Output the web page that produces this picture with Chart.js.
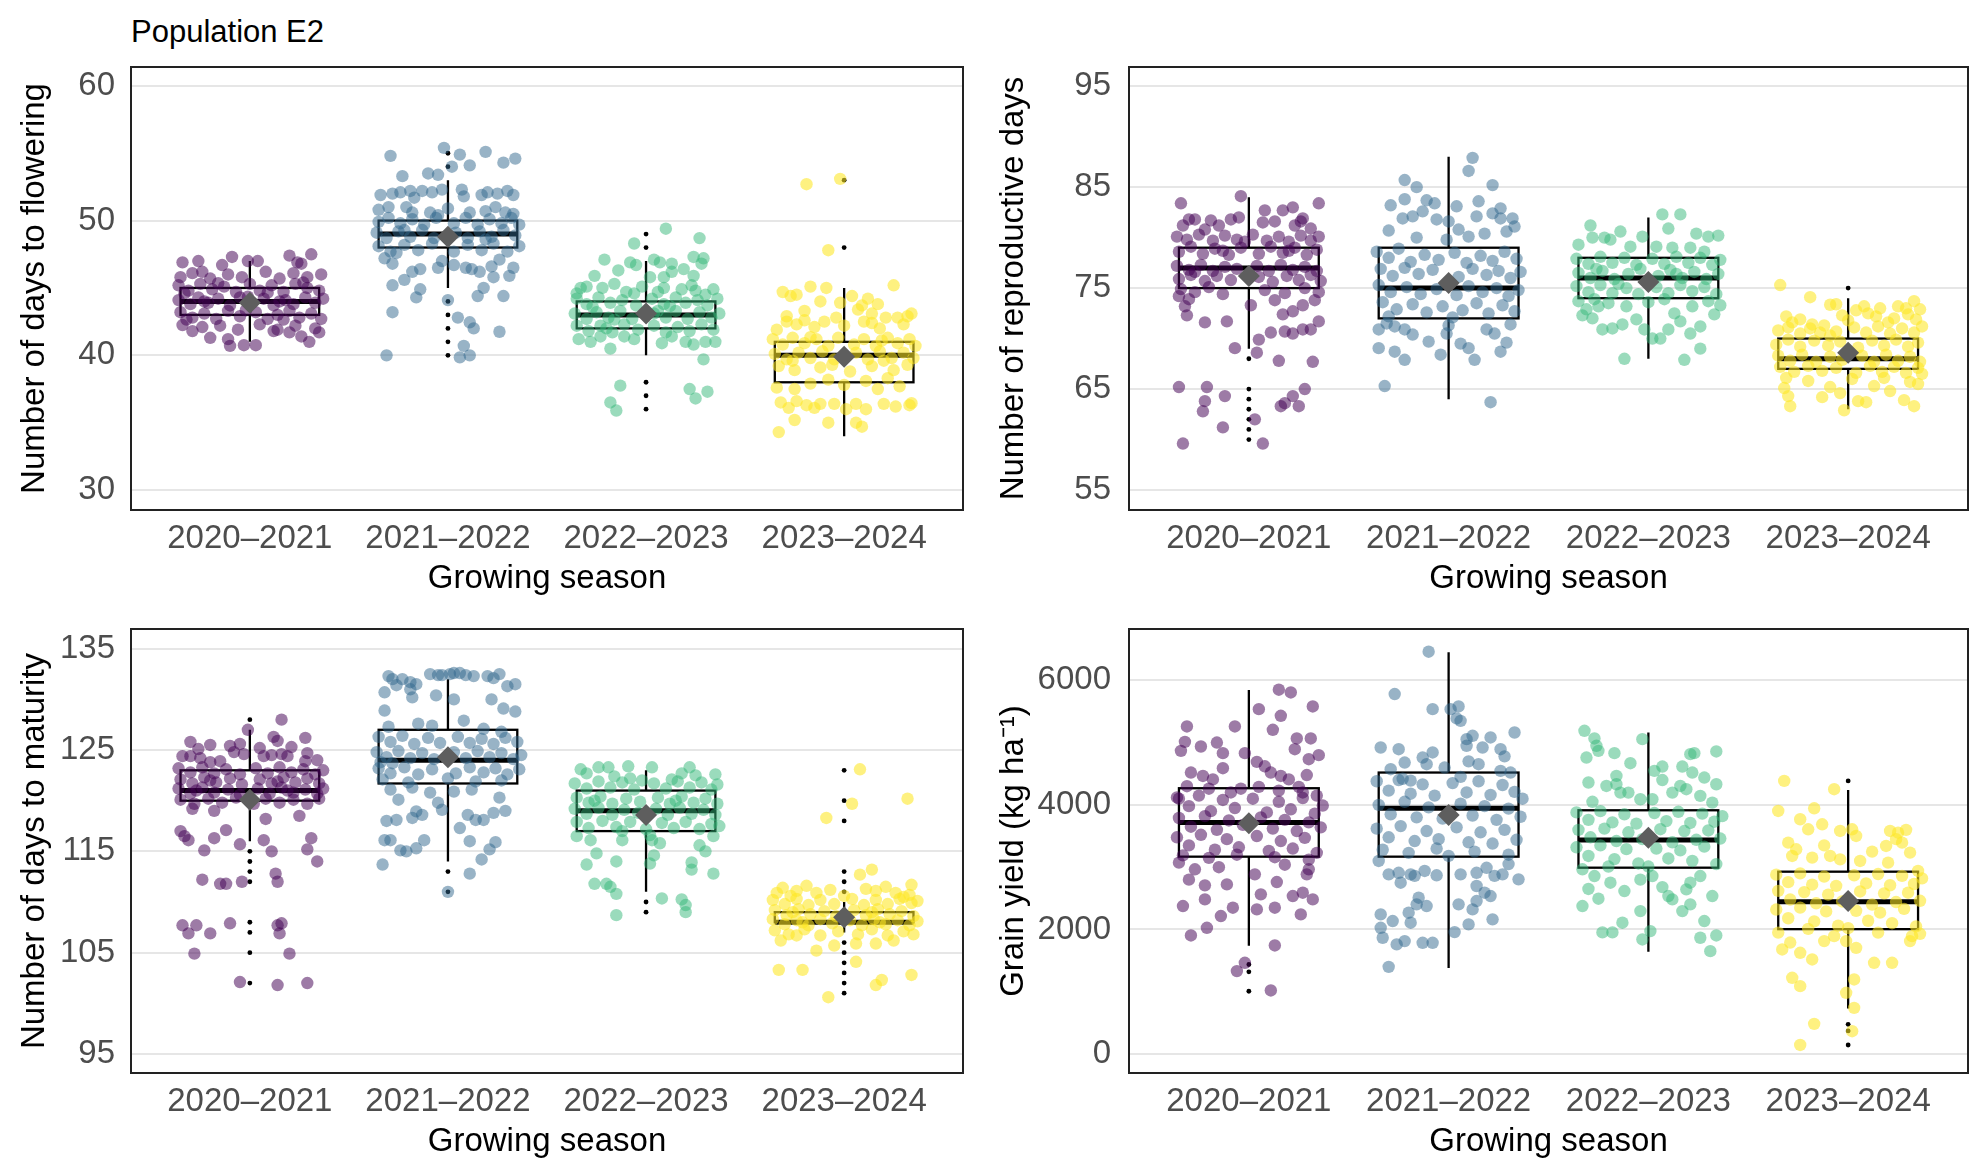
<!DOCTYPE html>
<html>
<head>
<meta charset="utf-8">
<script src="https://cdn.jsdelivr.net/npm/chart.js@4.4.1/dist/chart.umd.min.js"></script>
<style>
  body { margin: 0; background: #fff; width: 1983px; height: 1169px; position: relative; overflow: hidden;
         font-family: "Liberation Sans", Arial, Helvetica, sans-serif; }
  .panel { position: absolute; }
  #figTitle { position: absolute; left: 131px; top: 16px; font-size: 31px; line-height: 31px; color: #000; }
</style>
</head>
<body>
<div id="figTitle">Population E2</div>
<div class="panel" style="left:0px;top:50px;width:990px;height:560px"><canvas id="graph1"></canvas></div>
<div class="panel" style="left:990px;top:50px;width:993px;height:560px"><canvas id="graph2"></canvas></div>
<div class="panel" style="left:0px;top:612px;width:990px;height:557px"><canvas id="graph3"></canvas></div>
<div class="panel" style="left:990px;top:612px;width:993px;height:557px"><canvas id="graph4"></canvas></div>
<script>
Chart.defaults.font.family = '"Liberation Sans", Arial, Helvetica, sans-serif';
Chart.defaults.animation = false;

const seasons = ['2020–2021', '2021–2022', '2022–2023', '2023–2024'];
// viridis, 4 levels
const seasonColors = ['rgba(68,1,84,0.52)', 'rgba(49,104,142,0.5)', 'rgba(53,183,121,0.5)', 'rgba(253,231,37,0.58)'];

// ---------- days to flowering ----------
const flwTicks = [30, 40, 50, 60];
const flwQ1 = [43, 48, 42, 38];
const flwMed = [44, 49, 43, 40];
const flwQ3 = [45, 50, 44, 41];
const flwLo = [41, 45, 40, 34];
const flwHi = [47, 53, 47, 45];
const flwMean = [43.9, 48.8, 43.1, 39.9];
const flwOut = [[], [55, 54, 44, 43, 42, 41, 40], [49, 48, 38, 37, 36], [53, 48]];
// jittered plants: [offset from season, days]
const flwPts2021 = [[-0.34,46.9],[-0.26,47.0],[-0.24,46.2],[-0.14,46.7],[-0.09,47.3],[-0.01,47.0],[0.04,47.0],[0.2,47.4],[0.24,46.9],[0.26,46.8],[0.31,47.5],
 [-0.35,45.8],[-0.29,46.1],[-0.2,45.7],[-0.11,46.0],[-0.04,45.8],[0.08,46.2],[0.15,45.7],[0.22,46.1],[0.29,45.8],[0.36,46.0],
 [-0.36,45.2],[-0.31,44.8],[-0.25,45.3],[-0.19,44.9],[-0.13,45.1],[-0.07,44.7],[0.0,45.3],[0.05,44.8],[0.11,45.2],[0.17,44.7],[0.23,45.3],[0.29,45.0],[0.35,44.8],[-0.33,44.6],[-0.16,45.35],[0.09,44.65],[0.27,45.4],
 [-0.36,44.1],[-0.3,43.8],[-0.26,44.3],[-0.21,43.9],[-0.16,44.2],[-0.1,43.7],[-0.05,44.3],[0.01,43.9],[0.07,44.2],[0.12,43.7],[0.18,44.1],[0.22,43.8],[0.28,44.3],[0.33,43.9],[0.37,44.2],[-0.01,44.35],[0.15,44.0],[-0.23,44.0],
 [-0.35,43.2],[-0.29,42.8],[-0.23,43.1],[-0.17,42.7],[-0.11,43.3],[-0.05,42.9],[0.03,43.2],[0.09,42.7],[0.14,43.0],[0.2,43.3],[0.25,42.8],[0.31,43.1],[0.36,42.7],[-0.32,42.65],[0.17,42.65],[-0.02,43.35],
 [-0.34,42.25],[-0.24,42.1],[-0.15,42.2],[-0.06,41.9],[0.05,42.3],[0.14,41.9],[0.23,42.2],[0.33,42.0],[-0.29,41.8],
 [-0.11,41.2],[-0.1,40.7],[-0.03,40.75],[0.03,40.75],[0.12,41.8],[0.2,41.7],[0.3,41.0],[0.35,41.7],[-0.2,41.3],[0.26,41.4]];
const flwPts2122 = [[-0.02,55.4],[-0.29,54.8],[0.06,54.9],[0.19,55.1],[0.11,54.1],[0.28,54.3],[0.34,54.6],[0.02,54.0],[-0.05,53.4],[-0.23,53.3],[-0.1,53.5],
 [-0.28,52.0],[-0.24,52.1],[-0.19,52.2],[-0.13,52.2],[-0.08,52.1],[-0.03,52.3],[0.07,52.3],[0.08,51.8],[0.17,51.9],[0.2,52.1],[0.25,52.0],[0.3,52.2],[-0.17,51.7],[0.33,51.9],[-0.34,51.9],
 [-0.3,51.0],[-0.21,51.0],[-0.18,50.6],[-0.09,50.6],[-0.05,50.4],[0.11,50.6],[0.19,50.7],[0.24,51.0],[0.29,50.6],[0.33,50.5],[-0.35,50.8],[0.0,50.9],
 [-0.35,49.9],[-0.3,50.2],[-0.24,49.8],[-0.18,50.1],[-0.12,49.7],[-0.06,50.2],[0.03,49.8],[0.09,50.2],[0.15,49.7],[0.21,50.1],[0.27,49.8],[0.32,50.2],[0.36,49.7],
 [-0.36,49.1],[-0.31,48.7],[-0.25,49.2],[-0.19,48.8],[-0.13,49.3],[-0.07,48.7],[0.04,49.1],[0.1,48.7],[0.16,49.2],[0.22,48.8],[0.28,49.3],[0.34,48.9],[-0.22,49.3],[0.19,48.6],
 [-0.35,48.1],[-0.29,47.7],[-0.22,48.2],[-0.15,47.8],[-0.08,48.3],[0.03,47.7],[0.1,48.2],[0.17,47.8],[0.23,48.3],[0.3,47.7],[0.36,48.1],[-0.26,47.6],
 [-0.32,47.2],[-0.28,46.8],[-0.18,46.2],[-0.14,46.4],[-0.05,46.5],[0.03,46.7],[0.09,46.5],[0.12,46.4],[0.22,46.6],[0.26,47.1],[0.33,46.5],[-0.03,47.0],
 [-0.28,45.2],[-0.14,44.9],[-0.16,44.3],[0.15,44.4],[0.18,45.0],[0.28,44.4],[0.16,46.2],[0.23,45.8],[0.31,45.9],[-0.22,45.6],[0.0,44.1],
 [-0.28,43.2],[0.05,42.8],[0.11,42.45],[0.26,41.75],[0.08,40.7],[0.06,39.85],[0.11,40.0],[-0.31,40.0],[0.13,42.0]];
const flwPts2223 = [[0.1,49.4],[0.27,48.7],[-0.06,48.3],[-0.21,47.1],[-0.08,46.9],[-0.05,46.7],[0.04,47.1],[0.07,46.9],[0.13,46.8],[0.19,46.4],[0.24,47.3],[0.29,47.2],[0.28,46.8],[0.24,45.9],[0.09,45.8],[0.13,46.2],[0.02,45.8],[-0.14,46.3],[-0.26,45.9],
 [-0.33,45.0],[-0.3,45.1],[-0.22,45.0],[-0.16,45.3],[-0.1,44.7],[-0.06,44.6],[0.06,44.7],[0.09,45.0],[0.18,44.9],[0.23,45.2],[0.25,44.8],[0.3,44.5],[-0.35,44.6],[0.34,44.9],[-0.02,45.1],
 [-0.35,44.2],[-0.3,43.8],[-0.24,44.3],[-0.18,43.9],[-0.12,44.1],[-0.05,43.7],[0.03,44.2],[0.09,43.8],[0.15,44.3],[0.2,43.9],[0.26,44.1],[0.31,43.7],[0.36,44.2],[-0.27,43.6],[0.12,43.65],
 [-0.36,43.1],[-0.3,42.7],[-0.25,43.2],[-0.19,42.8],[-0.13,43.3],[-0.07,42.7],[0.04,43.1],[0.1,42.8],[0.15,43.3],[0.21,42.7],[0.27,43.2],[0.33,42.8],[0.37,43.1],[-0.16,42.65],[0.06,43.3],
 [-0.35,42.2],[-0.29,41.8],[-0.23,42.2],[-0.17,41.7],[-0.11,42.3],[-0.04,41.9],[0.04,42.2],[0.1,41.7],[0.16,42.1],[0.22,41.8],[0.28,42.3],[0.34,41.9],[-0.2,42.0],
 [-0.34,41.2],[-0.28,41.0],[-0.23,41.4],[-0.18,40.5],[-0.11,41.4],[-0.06,41.2],[0.08,40.9],[0.13,41.4],[0.2,41.0],[0.24,40.8],[0.3,41.0],[0.35,41.0],[0.29,39.7],
 [-0.13,37.75],[-0.18,36.5],[-0.15,35.9],[0.22,37.5],[0.25,36.8],[0.31,37.3]];
const flwPts2324 = [[-0.19,52.7],[-0.02,53.1],[-0.08,47.8],
 [-0.31,44.7],[-0.27,44.4],[-0.24,44.5],[-0.17,45.1],[-0.09,45.0],[-0.12,44.0],[-0.02,43.9],[0.04,44.4],[0.09,43.7],[0.12,44.2],[0.17,43.8],[0.25,45.2],[0.07,43.4],[0.14,43.1],[-0.2,43.3],[-0.29,42.9],
 [-0.34,41.9],[-0.29,42.5],[-0.24,42.3],[-0.2,42.6],[-0.1,42.5],[-0.04,42.8],[0.1,42.5],[0.14,42.4],[0.21,42.8],[0.27,42.8],[0.32,42.9],[0.34,43.1],[0.0,42.2],[-0.15,42.1],[0.18,42.0],[0.3,42.3],
 [-0.36,41.2],[-0.31,40.8],[-0.26,41.3],[-0.2,40.9],[-0.14,41.2],[-0.08,40.7],[-0.03,41.3],[0.05,40.8],[0.1,41.2],[0.16,40.7],[0.22,41.3],[0.27,40.9],[0.33,41.2],[0.36,40.7],[-0.17,41.35],[0.19,41.1],
 [-0.35,40.1],[-0.29,39.7],[-0.23,40.2],[-0.17,39.8],[-0.11,40.3],[-0.05,39.7],[0.06,40.2],[0.12,39.7],[0.18,40.3],[0.24,39.8],[0.3,40.2],[0.35,39.8],[-0.26,39.6],[0.2,39.6],
 [-0.33,39.2],[-0.25,38.9],[-0.12,39.1],[0.03,38.8],[0.14,39.2],[0.25,38.9],[0.32,39.3],[-0.06,39.3],
 [-0.34,37.6],[-0.25,37.5],[-0.17,37.9],[0.0,37.8],[0.11,38.1],[0.17,37.5],[0.28,37.7],[-0.08,38.2],[0.22,38.3],
 [-0.32,36.5],[-0.28,36.1],[-0.24,36.6],[-0.19,36.3],[-0.12,36.4],[-0.05,36.4],[0.01,36.0],[0.06,36.4],[0.11,36.0],[0.2,36.4],[0.33,36.3],[0.34,36.45],[-0.15,36.1],[0.26,36.2],
 [-0.25,35.2],[-0.08,35.0],[0.09,34.7],[0.06,35.0],[-0.33,34.3]];

// ---------- reproductive days ----------
const repTicks = [55, 65, 75, 85, 95];
const repQ1 = [75, 72, 74, 67];
const repMed = [77, 75, 76, 68];
const repQ3 = [79, 79, 78, 70];
const repLo = [69, 64, 68, 63];
const repHi = [84, 88, 82, 74];
const repMean = [76.2, 75.5, 75.6, 68.6];
const repOut = [[68, 65, 64, 63, 62, 61, 60], [], [], [75]];
const repPts2021 = [[-0.34,83.4],[-0.04,84.1],[0.08,82.7],[0.17,82.7],[0.22,83.0],[0.35,83.4],
 [-0.33,81.2],[-0.3,81.8],[-0.27,81.8],[-0.19,81.7],[-0.15,81.2],[-0.09,81.8],[-0.05,82.0],[0.07,81.5],[0.13,81.6],[0.23,81.2],[0.26,81.6],[0.31,80.9],[0.27,81.9],[-0.22,80.8],
 [-0.36,80.1],[-0.31,79.8],[-0.25,80.3],[-0.18,79.7],[-0.12,80.2],[-0.06,79.8],[0.02,80.3],[0.09,79.7],[0.15,80.1],[0.2,79.6],[0.26,80.2],[0.31,79.7],[0.35,80.1],[-0.02,79.6],
 [-0.35,78.6],[-0.29,79.1],[-0.23,78.4],[-0.17,78.9],[-0.1,78.3],[-0.04,79.0],[0.05,78.4],[0.11,79.1],[0.17,78.5],[0.23,79.0],[0.29,78.3],[0.34,78.8],[-0.13,78.7],[0.2,78.7],
 [-0.36,77.2],[-0.3,76.8],[-0.24,77.3],[-0.18,76.7],[-0.12,77.1],[-0.06,76.9],[0.04,77.2],[0.1,76.7],[0.16,77.3],[0.22,76.8],[0.28,77.1],[0.34,76.7],[-0.27,76.6],
 [-0.35,75.9],[-0.29,76.3],[-0.22,75.7],[-0.16,76.2],[-0.09,75.8],[0.05,76.1],[0.12,75.6],[0.19,76.2],[0.25,75.8],[0.31,76.3],[0.36,75.7],
 [-0.34,74.9],[-0.27,74.6],[-0.2,75.1],[-0.13,74.4],[0.08,74.8],[0.18,74.5],[0.28,75.0],[0.35,74.6],[-0.35,74.2],
 [-0.32,73.2],[-0.31,72.3],[-0.22,71.6],[-0.11,71.7],[0.01,73.3],[0.13,73.8],[0.17,72.4],[0.22,72.7],[0.27,73.3],[0.33,73.8],[0.35,71.7],[-0.07,69.05],[0.05,69.9],[0.11,70.6],[0.18,70.7],[0.22,70.5],[0.27,70.9],[0.31,70.9],[0.04,68.6],[0.15,67.8],[0.32,67.7],[-0.3,73.9],
 [-0.35,65.2],[-0.21,65.2],[-0.22,63.8],[-0.23,62.8],[-0.12,64.3],[-0.13,61.2],[-0.33,59.6],[0.03,62.0],[0.07,59.6],[0.16,63.3],[0.18,63.6],[0.22,64.3],[0.25,63.3],[0.28,65.0]];
const repPts2122 = [[0.12,87.9],[0.1,86.6],[0.22,85.2],[-0.22,85.7],[-0.16,85.0],[-0.29,83.2],[-0.22,83.8],[-0.11,83.7],[-0.07,83.4],[0.15,83.6],[0.26,82.9],[-0.23,81.9],[-0.18,82.1],[-0.13,82.6],[-0.06,81.8],[0.04,83.1],[0.05,80.8],[0.14,82.1],[0.22,82.4],[0.26,81.9],[0.32,81.9],[0.33,81.1],[0.29,80.6],[0.1,80.1],[-0.01,79.8],[-0.16,80.0],[-0.3,80.7],[0.0,81.6],[0.18,80.4],
 [-0.36,78.6],[-0.3,78.0],[-0.25,78.9],[-0.19,77.6],[-0.12,78.3],[-0.05,77.8],[0.03,78.5],[0.09,77.5],[0.16,78.2],[0.22,77.7],[0.28,78.6],[0.34,77.9],
 [-0.34,76.9],[-0.28,76.2],[-0.22,77.0],[-0.15,76.4],[-0.08,76.8],[0.05,76.1],[0.12,76.9],[0.19,76.3],[0.25,76.7],[0.31,76.0],[0.36,76.6],
 [-0.35,75.3],[-0.29,74.6],[-0.21,75.1],[-0.14,74.4],[-0.06,74.9],[0.04,74.3],[0.1,75.2],[0.17,74.6],[0.24,75.0],[0.3,74.2],[0.35,74.8],
 [-0.33,73.6],[-0.26,72.9],[-0.18,73.4],[-0.11,72.6],[-0.03,73.2],[0.07,72.8],[0.14,73.5],[0.2,72.5],[0.27,73.3],[0.33,72.7],[-0.3,72.2],[0.02,72.1],
 [-0.35,70.9],[-0.31,71.5],[-0.27,71.2],[-0.22,70.9],[-0.18,70.4],[-0.1,69.7],[-0.04,68.4],[-0.01,70.5],[0.06,69.5],[0.1,69.05],[0.13,67.9],[0.19,70.9],[0.23,70.5],[0.26,68.7],[0.29,69.6],[-0.35,69.05],[-0.27,68.7],[-0.22,67.9],[-0.32,65.3],[0.21,63.7],[0.0,71.3],[0.31,71.4]];
const repPts2223 = [[0.07,82.3],[0.16,82.3],[0.1,80.9],[-0.29,81.2],[-0.28,80.0],[-0.22,80.0],[-0.19,79.8],[-0.03,80.1],[0.3,80.1],[0.35,80.2],[-0.09,79.1],[0.04,79.1],[0.12,79.0],[0.21,79.0],[0.28,78.6],[-0.14,80.6],[0.24,80.4],[-0.35,79.3],
 [-0.36,77.9],[-0.3,77.4],[-0.24,78.1],[-0.18,77.5],[-0.12,78.0],[-0.06,77.3],[0.02,77.9],[0.08,77.4],[0.14,78.1],[0.2,77.5],[0.26,78.0],[0.32,77.3],[0.36,77.8],
 [-0.35,76.5],[-0.29,76.0],[-0.23,76.7],[-0.17,75.9],[-0.1,76.4],[-0.04,76.9],[0.05,76.2],[0.11,76.8],[0.17,76.0],[0.23,76.6],[0.29,75.9],[0.35,76.4],[-0.26,76.9],[0.14,76.4],
 [-0.36,75.2],[-0.3,74.6],[-0.24,75.3],[-0.18,74.5],[-0.11,75.0],[-0.05,74.4],[0.04,75.1],[0.1,74.5],[0.16,75.3],[0.22,74.7],[0.28,75.1],[0.34,74.4],[-0.15,75.4],
 [-0.35,73.7],[-0.27,73.9],[-0.2,73.5],[0.0,73.6],[0.08,73.9],[0.3,73.7],[0.36,73.3],
 [-0.31,72.9],[-0.28,72.0],[-0.23,70.9],[-0.18,71.0],[-0.13,71.4],[-0.06,71.9],[-0.02,70.9],[0.02,70.0],[0.06,70.0],[0.1,70.9],[0.16,71.7],[0.21,70.5],[0.26,71.2],[0.33,72.4],[0.26,69.0],[-0.12,68.0],[0.18,67.9],[-0.25,73.2],[-0.11,73.2],[0.22,73.2],[0.13,72.5],[-0.33,72.3]];
const repPts2324 = [[-0.34,75.3],[-0.19,74.1],[-0.09,73.35],[-0.06,73.4],[0.08,73.2],[0.1,72.5],[0.14,72.2],[0.25,73.2],[0.29,73.0],[0.33,73.7],[0.34,71.9],[-0.31,72.2],[-0.28,71.6],[-0.24,71.9],[-0.18,71.4],[-0.14,70.6],[-0.09,70.3],[0.0,71.8],[0.04,72.8],[0.2,71.6],[0.23,72.0],[-0.03,72.3],[0.3,72.4],[0.16,73.0],[0.36,72.9],
 [-0.35,70.8],[-0.3,71.1],[-0.24,70.5],[-0.19,71.0],[-0.12,71.3],[-0.06,70.7],[0.03,71.1],[0.09,70.6],[0.15,71.2],[0.21,70.5],[0.27,71.0],[0.33,70.6],[0.37,71.2],
 [-0.36,69.4],[-0.3,69.9],[-0.24,69.2],[-0.17,69.8],[-0.1,69.3],[-0.04,69.7],[0.05,69.1],[0.12,69.8],[0.18,69.3],[0.24,69.9],[0.3,69.2],[0.35,69.6],
 [-0.35,68.3],[-0.29,67.8],[-0.23,68.4],[-0.16,67.7],[-0.09,68.2],[-0.03,67.9],[0.07,68.3],[0.13,67.7],[0.19,68.4],[0.25,67.8],[0.31,68.2],[0.36,67.7],
 [-0.34,67.2],[-0.27,66.7],[-0.2,67.3],[-0.13,66.8],[-0.06,67.1],[0.04,66.6],[0.11,67.3],[0.17,66.7],[0.23,67.2],[0.29,66.6],[0.35,67.1],[0.37,66.5],
 [-0.31,66.1],[-0.32,65.1],[-0.3,64.3],[-0.29,63.3],[-0.13,64.2],[-0.09,65.2],[-0.04,64.6],[-0.02,62.9],[0.05,63.8],[0.09,63.7],[0.13,65.3],[0.21,64.8],[0.28,63.9],[0.33,63.3],[0.31,65.7],[-0.2,65.8],[0.02,66.0],[0.18,66.1],[0.35,65.5]];

// ---------- days to maturity ----------
const matTicks = [95, 105, 115, 125, 135];
const matQ1 = [120, 121.7, 117, 108];
const matMed = [121, 124, 119, 108];
const matQ3 = [123, 127, 121, 109];
const matLo = [116, 114, 111, 107];
const matHi = [127, 132, 123, 110];
const matMean = [120.1, 124.3, 118.6, 108.5];
const matOut = [[128, 115, 114, 113, 112, 108, 107, 105, 102], [113, 111], [110, 109],
                [123, 120, 118, 113, 112, 111, 106, 105, 104, 103, 102, 101]];
const matPts2021 = [[0.16,128.0],[-0.01,127.0],[-0.3,125.8],[-0.26,125.1],[-0.1,125.4],[-0.05,125.6],[0.12,126.3],[0.14,125.9],[0.21,125.3],[0.28,126.2],[-0.2,125.5],[0.05,125.2],
 [-0.34,124.4],[-0.3,124.4],[-0.2,123.8],[-0.15,123.9],[-0.08,124.8],[-0.03,124.6],[0.07,124.4],[0.11,124.5],[0.16,124.6],[0.19,124.4],[0.28,123.9],[0.29,124.7],[-0.25,124.2],[0.34,124.0],
 [-0.36,123.2],[-0.3,122.8],[-0.24,123.3],[-0.18,122.7],[-0.12,123.1],[-0.05,122.6],[0.03,123.2],[0.09,122.7],[0.15,123.3],[0.21,122.8],[0.27,123.1],[0.33,122.6],[0.37,123.0],
 [-0.35,122.1],[-0.29,121.7],[-0.23,122.3],[-0.17,121.8],[-0.1,122.2],[-0.04,121.6],[0.05,122.1],[0.11,121.7],[0.17,122.3],[0.23,121.8],[0.29,122.2],[0.35,121.7],[-0.2,122.0],[0.14,121.9],
 [-0.36,121.2],[-0.3,120.7],[-0.24,121.3],[-0.18,120.8],[-0.11,121.1],[-0.05,120.6],[0.04,121.2],[0.1,120.7],[0.16,121.3],[0.22,120.8],[0.28,121.1],[0.34,120.7],[-0.27,121.0],[0.19,121.0],[0.37,121.2],
 [-0.35,120.1],[-0.28,119.7],[-0.21,120.2],[-0.14,119.8],[-0.07,120.3],[0.02,119.7],[0.08,120.2],[0.15,119.8],[0.22,120.1],[0.29,119.7],[0.35,120.2],
 [-0.29,119.2],[-0.18,119.0],[-0.35,117.0],[-0.31,116.1],[-0.18,116.3],[-0.12,117.1],[-0.05,115.7],[0.07,116.1],[0.11,115.0],[0.31,116.3],[0.29,115.2],[0.34,114.0],[-0.23,115.1],[-0.33,116.5],[0.08,118.2],[0.25,118.5],
 [-0.24,112.2],[-0.15,111.8],[-0.12,111.8],[-0.04,112.0],[0.13,112.8],[0.14,112.0],
 [-0.34,107.7],[-0.31,106.9],[-0.27,107.7],[-0.2,106.9],[-0.1,107.9],[0.14,107.7],[0.15,106.9],[0.16,107.9],
 [-0.28,104.9],[0.2,104.9],[-0.05,102.1],[0.14,101.8],[0.29,102.0]];
const matPts2122 = [[-0.3,132.3],[-0.28,132.0],[-0.23,132.0],[-0.19,131.7],[-0.09,132.5],[-0.05,132.4],[-0.03,132.4],[0.01,132.5],[0.03,132.6],[0.06,132.6],[0.09,132.4],[0.13,132.3],[0.2,132.3],[0.23,132.1],[0.26,132.5],
 [-0.32,130.7],[-0.19,131.0],[-0.16,131.5],[-0.06,130.4],[0.03,130.0],[0.22,130.0],[0.28,129.1],[0.34,131.5],[0.34,128.8],[-0.32,128.9],[-0.18,130.2],[-0.26,131.4],[0.3,131.3],
 [-0.15,127.6],[-0.08,127.4],[0.18,127.1],[-0.3,127.3],[0.08,127.9],[0.27,126.8],
 [-0.35,126.3],[-0.29,125.8],[-0.23,126.4],[-0.17,125.6],[-0.1,126.2],[-0.04,125.7],[0.05,126.3],[0.11,125.7],[0.17,126.1],[0.23,125.6],[0.29,126.2],[0.35,125.8],
 [-0.36,124.8],[-0.31,124.3],[-0.25,124.9],[-0.19,124.2],[-0.13,124.7],[-0.07,124.1],[0.03,124.8],[0.09,124.2],[0.15,124.9],[0.21,124.3],[0.27,124.7],[0.33,124.1],[-0.34,123.8],[-0.28,123.7],[0.37,124.5],
 [-0.35,123.2],[-0.29,122.7],[-0.22,123.3],[-0.15,122.6],[-0.08,123.1],[0.04,122.7],[0.11,123.3],[0.18,122.8],[0.24,123.2],[0.3,122.6],[0.36,123.1],
 [-0.33,122.1],[-0.2,121.8],[0.0,122.2],[0.14,121.9],[0.27,122.0],
 [-0.29,121.1],[-0.25,120.1],[-0.18,121.3],[-0.16,118.95],[-0.09,120.8],[-0.03,119.1],[0.03,120.9],[0.12,121.1],[0.26,120.3],[0.29,119.0],[0.1,118.6],[0.14,118.1],[0.18,118.1],[0.23,118.8],[-0.31,118.0],[-0.26,118.1],[-0.18,118.3],[-0.13,118.6],[-0.32,116.1],[-0.29,116.1],[-0.24,115.1],[-0.21,115.0],[-0.16,115.3],[-0.12,116.1],[0.11,116.0],[0.17,114.2],[0.21,115.2],[0.24,115.9],[-0.33,113.7],[0.11,112.8],[0.0,111.0],[-0.05,119.8],[0.06,117.3]];
const matPts2223 = [[-0.33,123.1],[-0.3,122.7],[-0.24,123.3],[-0.19,123.3],[-0.16,122.4],[-0.09,123.4],[-0.08,122.2],[0.03,123.3],[0.18,122.7],[0.22,123.3],[0.25,122.5],[0.35,122.6],
 [-0.36,121.7],[-0.3,121.2],[-0.24,121.9],[-0.18,121.3],[-0.12,121.8],[-0.06,121.1],[0.04,121.7],[0.1,121.2],[0.16,121.9],[0.22,121.3],[0.28,121.8],[0.33,121.1],[0.36,121.6],[-0.02,122.0],[0.13,122.1],
 [-0.35,120.3],[-0.29,119.8],[-0.23,120.4],[-0.17,119.7],[-0.1,120.2],[-0.03,119.9],[0.06,120.3],[0.12,119.7],[0.18,120.4],[0.24,119.8],[0.3,120.2],[0.36,119.7],[-0.26,120.0],[0.15,120.0],
 [-0.36,119.2],[-0.3,118.7],[-0.24,119.3],[-0.17,118.6],[-0.11,119.1],[-0.04,118.8],[0.05,119.2],[0.11,118.6],[0.17,119.3],[0.23,118.7],[0.29,119.1],[0.35,118.6],
 [-0.35,117.9],[-0.29,117.3],[-0.22,118.0],[-0.15,117.4],[-0.08,117.9],[0.0,117.2],[0.08,117.8],[0.14,117.3],[0.2,117.9],[0.27,117.2],[0.33,117.7],[-0.12,117.0],[0.37,117.5],
 [-0.35,116.5],[-0.28,116.1],[-0.12,116.1],[0.03,116.1],[0.07,115.8],[0.27,115.6],[0.34,116.5],[-0.25,114.8],[-0.15,114.0],[0.04,114.6],[0.3,115.0],[-0.3,113.7],[0.02,113.8],[0.23,113.9],[0.23,113.2],[0.34,112.8],[-0.26,111.8],[-0.2,111.8],[-0.18,111.5],[-0.15,110.8],[0.08,110.35],[0.18,110.25],[0.2,109.7],[0.2,109.0],[-0.15,108.7],[0.02,116.6]];
const matPts2324 = [[0.08,123.1],[0.32,120.2],[0.04,119.7],[-0.09,118.3],[0.14,113.2],[0.08,112.7],[0.34,111.7],
 [-0.34,110.9],[-0.31,111.4],[-0.24,111.1],[-0.19,111.6],[-0.14,110.9],[-0.07,111.2],[0.0,110.6],[0.11,111.3],[0.16,111.1],[0.26,110.9],[0.3,110.5],[0.33,110.7],[-0.27,110.6],[0.21,111.5],
 [-0.36,110.2],[-0.3,109.8],[-0.24,110.3],[-0.18,109.7],[-0.12,110.2],[-0.05,109.8],[0.04,110.3],[0.1,109.7],[0.16,110.2],[0.22,109.8],[0.28,110.3],[0.34,109.9],[0.37,110.1],
 [-0.35,109.2],[-0.29,108.7],[-0.23,109.3],[-0.17,108.8],[-0.1,109.1],[-0.04,108.6],[0.05,109.2],[0.11,108.7],[0.17,109.3],[0.23,108.8],[0.29,109.1],[0.35,108.6],[-0.26,109.0],[0.14,109.0],
 [-0.36,108.3],[-0.3,107.8],[-0.24,108.2],[-0.18,107.7],[-0.12,108.3],[-0.06,107.9],[0.03,108.2],[0.09,107.7],[0.15,108.3],[0.21,107.8],[0.27,108.2],[0.33,107.7],[0.37,108.1],[-0.21,108.0],[0.18,108.0],
 [-0.35,107.2],[-0.28,106.8],[-0.2,107.3],[-0.12,106.7],[-0.03,107.1],[0.07,106.8],[0.14,107.3],[0.22,106.7],[0.3,107.1],[0.35,106.8],
 [-0.32,106.2],[-0.24,106.7],[-0.14,105.2],[-0.05,105.7],[0.06,105.9],[0.16,105.9],[0.06,104.1],[-0.33,103.3],[-0.21,103.3],[0.16,101.8],[0.19,102.3],[0.34,102.8],[-0.08,100.6],[0.25,106.2]];

// ---------- grain yield ----------
const ydTicks = [0, 2000, 4000, 6000];
const ydQ1 = [3169, 3169, 2992, 2005];
const ydMed = [3716, 3946, 3437, 2445];
const ydQ3 = [4268, 4520, 3914, 2928];
const ydLo = [1737, 1383, 1641, 730];
const ydHi = [5844, 6450, 5163, 4241];
const ydMean = [3705, 3839, 3474, 2456];
const ydOut = [[1437, 1319, 1008], [], [], [4386, 477, 370, 145]];
const ydPts2021 = [[0.15,5850],[0.21,5806],[0.32,5581],[0.05,5538],[0.16,5431],[-0.31,5260],[-0.07,5260],[0.12,5206],[0.24,5067],[0.31,5067],[-0.32,5013],[-0.24,4938],[-0.16,5002],[-0.34,4868],[-0.13,4831],[-0.02,4831],[0.04,4691],[0.35,4799],[0.3,4734],[0.23,4895],
 [-0.29,4520],[-0.23,4465],[-0.18,4410],[-0.13,4590],[0.08,4620],[0.11,4520],[0.16,4465],[0.2,4410],[0.29,4480],[-0.31,4300],[-0.2,4260],[-0.09,4200],[-0.04,4260],[0.05,4290],[0.15,4230],[0.25,4290],[0.27,4200],[-0.35,4100],[0.34,4150],
 [-0.36,4120],[-0.3,3980],[-0.25,4150],[-0.19,3900],[-0.13,4080],[-0.07,3950],[0.02,4100],[0.09,3880],[0.15,4050],[0.21,3930],[0.27,4110],[0.33,3860],[0.37,3990],
 [-0.35,3790],[-0.29,3650],[-0.22,3820],[-0.16,3600],[-0.1,3750],[-0.03,3680],[0.06,3800],[0.12,3620],[0.18,3760],[0.24,3580],[0.3,3720],[0.36,3640],
 [-0.36,3480],[-0.3,3350],[-0.24,3520],[-0.17,3280],[-0.11,3450],[-0.05,3320],[0.04,3500],[0.1,3260],[0.16,3420],[0.22,3300],[0.28,3470],[0.34,3230],
 [-0.33,3190],[-0.2,3150],[-0.06,3200],[0.13,3160],[0.3,3120],
 [-0.35,3073],[-0.27,2966],[-0.22,2708],[-0.11,2724],[0.03,2885],[0.14,2762],[0.29,2885],[0.3,2966],[0.22,2537],[0.27,2590],[0.32,2483],[-0.33,2376],[-0.22,2483],[-0.08,2349],[0.04,2322],[0.13,2349],[0.06,2564],[0.26,2242],[-0.14,2215],[-0.21,2027],[-0.29,1904],[0.13,1743],[-0.02,1465],[-0.06,1331],[0.11,1020],[-0.3,2800],[0.18,3040],[-0.15,3000]];
const ydPts2122 = [[-0.1,6460],[-0.27,5780],[-0.08,5538],[0.01,5538],[0.05,5581],[0.04,5388],[0.06,5350],[0.33,5163],[0.09,5056],[0.12,5110],[0.21,5083],[0.26,4895],[-0.34,4922],[-0.25,4895],[-0.13,4761],[-0.08,4842],[0.17,4922],[0.09,4949],[-0.29,4573],[-0.22,4681],[-0.11,4654],[-0.02,4600],[0.15,4654],[0.26,4547],[0.31,4520],[-0.23,4420],[-0.19,4390],[0.06,4450],[0.1,4700],[0.28,4780],
 [-0.36,4380],[-0.3,4230],[-0.25,4400],[-0.19,4180],[-0.13,4330],[-0.07,4150],[0.02,4350],[0.09,4200],[0.15,4380],[0.21,4160],[0.27,4320],[0.33,4210],[0.37,4100],
 [-0.35,4000],[-0.29,3850],[-0.22,4050],[-0.16,3800],[-0.1,3960],[-0.03,3780],[0.06,4020],[0.12,3830],[0.18,3980],[0.24,3760],[0.3,3940],[0.36,3810],
 [-0.36,3620],[-0.3,3480],[-0.24,3660],[-0.17,3420],[-0.11,3580],[-0.05,3450],[0.04,3640],[0.1,3400],[0.16,3560],[0.22,3380],[0.28,3600],[0.34,3440],
 [-0.33,3280],[-0.2,3230],[-0.06,3300],[0.13,3250],[0.3,3200],[0.0,3180],
 [-0.35,3100],[-0.3,2885],[-0.25,2910],[-0.19,2885],[-0.17,2860],[-0.12,2940],[-0.06,2870],[0.06,2885],[0.14,2910],[0.19,2990],[0.23,2860],[0.27,2885],[0.35,2805],[-0.24,2751],[0.14,2698],[0.18,2590],[0.21,2537],[-0.15,2510],[-0.11,2376],[-0.16,2403],[0.05,2403],[0.14,2456],[0.12,2322],[-0.34,2242],[-0.28,2135],[-0.2,2269],[-0.19,2108],[0.1,2081],[0.22,2162],[0.03,1958],[-0.34,2027],[-0.33,1867],[-0.26,1760],[-0.22,1813],[-0.13,1786],[-0.08,1786],[-0.3,1400],[0.3,3050]];
const ydPts2223 = [[-0.32,5190],[-0.27,5067],[-0.26,4949],[-0.25,4868],[-0.31,4761],[-0.17,4831],[-0.09,4670],[-0.03,5056],[0.07,4616],[0.03,4547],[0.17,4616],[0.21,4815],[0.23,4831],[0.34,4858],[0.22,4520],[0.28,4440],[0.34,4332],[-0.3,4360],[-0.16,4466],[-0.16,4332],[-0.14,4198],[-0.21,4305],[-0.1,4198],[-0.04,4091],[0.02,4091],[0.12,4198],[0.16,4305],[0.19,4252],[0.26,4145],[0.32,4037],[-0.28,4050],[0.07,4400],
 [-0.36,3880],[-0.3,3760],[-0.24,3900],[-0.18,3720],[-0.12,3850],[-0.06,3700],[0.03,3870],[0.09,3740],[0.15,3890],[0.21,3710],[0.27,3860],[0.33,3730],[0.37,3820],
 [-0.35,3600],[-0.29,3480],[-0.22,3620],[-0.16,3420],[-0.1,3560],[-0.03,3450],[0.06,3610],[0.12,3400],[0.18,3580],[0.24,3440],[0.3,3590],[0.36,3460],
 [-0.36,3320],[-0.3,3180],[-0.24,3350],[-0.17,3130],[-0.11,3290],[-0.05,3060],[0.04,3300],[0.1,3140],[0.16,3270],[0.22,3100],[0.28,3330],[0.34,3050],[-0.2,3010],[0.0,3010],
 [-0.33,2966],[-0.27,2858],[-0.19,2751],[-0.12,2617],[-0.04,2800],[0.02,2858],[0.1,2537],[0.12,2483],[0.19,2644],[0.21,2751],[0.26,2858],[0.32,2537],[-0.33,2376],[-0.25,2494],[-0.04,2295],[0.17,2295],[0.21,2403],[0.28,2135],[-0.23,1953],[-0.18,1953],[-0.13,2108],[0.01,1974],[-0.03,1840],[0.26,1867],[0.34,1904],[0.31,1652],[0.07,2680],[-0.3,2650]];
const ydPts2324 = [[-0.32,4386],[-0.07,4252],[-0.17,3946],[-0.35,3903],[-0.24,3770],[-0.2,3609],[-0.13,3689],[-0.04,3582],[0.02,3609],[0.04,3502],[0.21,3582],[0.25,3555],[0.19,3341],[0.27,3394],[0.31,3234],[-0.3,3394],[-0.26,3287],[-0.28,3180],[-0.18,3153],[-0.09,3180],[-0.04,3126],[0.06,3100],[0.2,3073],[0.35,2939],[0.24,3450],[0.29,3600],[-0.12,3350],[0.12,3250],
 [-0.36,2880],[-0.3,2760],[-0.24,2900],[-0.18,2720],[-0.12,2850],[-0.06,2700],[0.03,2870],[0.09,2740],[0.15,2890],[0.21,2710],[0.27,2860],[0.33,2730],[0.37,2820],
 [-0.35,2620],[-0.29,2480],[-0.22,2600],[-0.16,2420],[-0.1,2560],[-0.03,2450],[0.06,2610],[0.12,2400],[0.18,2580],[0.24,2440],[0.3,2590],[0.36,2460],
 [-0.36,2320],[-0.3,2180],[-0.24,2350],[-0.17,2130],[-0.11,2290],[-0.05,2060],[0.04,2300],[0.1,2140],[0.16,2270],[0.22,2100],[0.28,2330],[0.34,2050],[-0.2,2010],[0.0,2020],
 [-0.33,1679],[-0.29,1790],[-0.24,1625],[-0.18,1518],[-0.01,1813],[0.04,1705],[0.13,1465],[0.22,1465],[0.31,1813],[0.32,1893],[-0.12,1813],[-0.07,1893],[-0.28,1224],[-0.24,1090],[0.03,1197],[-0.01,983],[0.03,741],[-0.17,484],[0.02,366],[-0.24,145],[-0.35,1950],[0.36,1930],[0.15,1950]];

const BOX_HALF = 0.35;

// boxes, whiskers and the panel frame, drawn through the chart's own scales
function boxPlugin(s) {
  return {
    id: 'boxes',
    beforeDatasetsDraw(chart) {
      const {ctx, scales: {x, y}} = chart;
      ctx.save();
      ctx.strokeStyle = '#000';
      s.q1.forEach((q1, i) => {
        const xc = x.getPixelForValue(i + 1);
        const xl = x.getPixelForValue(i + 1 - BOX_HALF);
        const xr = x.getPixelForValue(i + 1 + BOX_HALF);
        const y1 = y.getPixelForValue(q1);
        const y3 = y.getPixelForValue(s.q3[i]);
        const ym = y.getPixelForValue(s.med[i]);
        ctx.lineWidth = 2.3;
        ctx.beginPath();
        ctx.moveTo(xc, y.getPixelForValue(s.hi[i]));
        ctx.lineTo(xc, y3);
        ctx.moveTo(xc, y1);
        ctx.lineTo(xc, y.getPixelForValue(s.lo[i]));
        ctx.stroke();
        ctx.strokeRect(xl, y3, xr - xl, y1 - y3);
        ctx.lineWidth = 5;
        ctx.beginPath();
        ctx.moveTo(xl, ym);
        ctx.lineTo(xr, ym);
        ctx.stroke();
      });
      ctx.restore();
    },
    afterDraw(chart) {
      const {ctx, chartArea: a} = chart;
      ctx.save();
      ctx.strokeStyle = '#222';
      ctx.lineWidth = 2;
      ctx.strokeRect(a.left, a.top, a.right - a.left, a.bottom - a.top);
      ctx.restore();
    }
  };
}

function makePanel(id, s, lay) {
  const datasets = [];
  datasets.push({
    label: 'mean',
    data: s.mean.map((m, i) => ({x: i + 1, y: m})),
    pointStyle: 'rectRot', pointRadius: 11, pointBackgroundColor: '#5e5e5e', pointBorderWidth: 0,
    order: 0
  });
  s.pts.forEach((arr, i) => {
    datasets.push({
      label: seasons[i],
      data: arr.map(p => ({x: i + 1 + p[0], y: p[1]})),
      pointRadius: 6.2, pointBackgroundColor: seasonColors[i], pointBorderWidth: 0,
      order: 1
    });
  });
  const outData = [];
  s.out.forEach((vals, i) => vals.forEach(v => outData.push({x: i + 1, y: v})));
  datasets.push({
    label: 'outliers',
    data: outData,
    pointRadius: 2.4, pointBackgroundColor: '#000', pointBorderWidth: 0,
    order: 2
  });

  new Chart(document.getElementById(id), {
    type: 'scatter',
    data: {datasets},
    options: {
      responsive: true,
      maintainAspectRatio: false,
      animation: false,
      layout: {padding: lay.padding},
      plugins: {legend: {display: false}, tooltip: {enabled: false}},
      scales: {
        x: {
          type: 'linear', min: 0.4, max: 4.6,
          afterBuildTicks: sc => { sc.ticks = seasons.map((t, i) => ({value: i + 1})); },
          afterFit: sc => { sc.height = lay.xHeight; sc.paddingLeft = 0; sc.paddingRight = 0; },
          grid: {display: false, drawTicks: false},
          border: {display: false},
          ticks: {
            color: '#4D4D4D', font: {size: 33}, padding: 9,
            autoSkip: false, maxRotation: 0,
            callback: v => seasons[Math.round(v) - 1]
          },
          title: {display: true, text: 'Growing season', color: '#000', font: {size: 33},
                  padding: {top: 0, bottom: lay.xTitlePad}}
        },
        y: {
          min: s.min, max: s.max,
          afterBuildTicks: sc => { sc.ticks = s.ticks.map(v => ({value: v})); },
          afterFit: sc => { sc.width = lay.yWidth; sc.paddingTop = 0; sc.paddingBottom = 0; },
          grid: {color: '#E6E6E6', lineWidth: 2, drawTicks: false},
          border: {display: false},
          ticks: {color: '#4D4D4D', font: {size: 33}, padding: lay.yTickPad, callback: v => String(v)},
          title: {display: true, text: s.title, color: '#000', font: {size: 33},
                  padding: {top: lay.yTitlePad, bottom: 0}}
        }
      }
    },
    plugins: [boxPlugin(s)]
  });
}

makePanel('graph1', {
  title: 'Number of days to flowering', min: 28.52, max: 61.4, ticks: flwTicks,
  q1: flwQ1, med: flwMed, q3: flwQ3, lo: flwLo, hi: flwHi, mean: flwMean, out: flwOut,
  pts: [flwPts2021, flwPts2122, flwPts2223, flwPts2324]
}, {padding: {left: 0, top: 17, right: 27, bottom: 0}, yWidth: 131, xHeight: 100, yTickPad: 16, yTitlePad: 15, xTitlePad: 11.5});

makePanel('graph2', {
  title: 'Number of reproductive days', min: 53.02, max: 96.9, ticks: repTicks,
  q1: repQ1, med: repMed, q3: repQ3, lo: repLo, hi: repHi, mean: repMean, out: repOut,
  pts: [repPts2021, repPts2122, repPts2223, repPts2324]
}, {padding: {left: 0, top: 17, right: 15, bottom: 0}, yWidth: 139, xHeight: 100, yTickPad: 18, yTitlePad: 4, xTitlePad: 11.5});

makePanel('graph3', {
  title: 'Number of days to maturity', min: 93.12, max: 136.95, ticks: matTicks,
  q1: matQ1, med: matMed, q3: matQ3, lo: matLo, hi: matHi, mean: matMean, out: matOut,
  pts: [matPts2021, matPts2122, matPts2223, matPts2324]
}, {padding: {left: 0, top: 17, right: 27, bottom: 0}, yWidth: 131, xHeight: 96, yTickPad: 16, yTitlePad: 15, xTitlePad: 7.5});

makePanel('graph4', {
  title: 'Grain yield (kg ha⁻¹)', min: -305, max: 6825, ticks: ydTicks,
  q1: ydQ1, med: ydMed, q3: ydQ3, lo: ydLo, hi: ydHi, mean: ydMean, out: ydOut,
  pts: [ydPts2021, ydPts2122, ydPts2223, ydPts2324]
}, {padding: {left: 0, top: 17, right: 15, bottom: 0}, yWidth: 139, xHeight: 96, yTickPad: 18, yTitlePad: 4, xTitlePad: 7.5});
</script>
</body>
</html>
